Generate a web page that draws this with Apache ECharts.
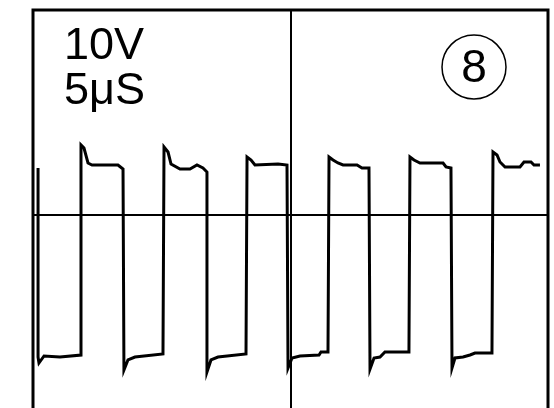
<!DOCTYPE html>
<html>
<head>
<meta charset="utf-8">
<style>
  html, body { margin: 0; padding: 0; background: #fff; }
  #chart { width: 554px; height: 408px; }
</style>
<script src="https://cdn.jsdelivr.net/npm/echarts@6/dist/echarts.min.js"></script>
</head>
<body>
<div id="chart"></div>
<script>
// Oscilloscope settings (labels)
const voltsPerDiv = '10V';
const timePerDiv = '5μS';
const panelNumber = '8';

// Axis ranges: time in μs (10 divisions of 5 μs), voltage in V (8 divisions of 10 V)
const timeMin = 0, timeMax = 50, timeGrid = 25;
const voltMin = -40, voltMax = 40, voltGrid = 40;

// Trace: time (μs) and voltage (V)
const traceTime = [
  0.49, 0.49, 0.58, 1.07, 2.62, 4.66,
  4.66, 4.95, 5.34, 5.73, 8.25, 8.74, 8.83,
  8.83, 9.22, 9.90, 12.62, 12.72,
  12.72, 13.11, 13.40, 14.27, 15.24, 15.92, 16.50, 16.89,
  16.89, 17.28, 17.96, 20.68, 20.78,
  20.78, 21.17, 21.55, 23.79, 24.66, 24.76,
  24.76, 25.15, 25.92, 27.77, 27.96, 28.64, 28.74,
  28.74, 29.13, 29.61, 30.10, 31.46, 31.94, 32.62, 32.72,
  32.72, 33.11, 33.69, 34.17, 36.50, 36.60,
  36.60, 36.99, 37.57, 39.81, 40.10, 40.58, 40.68,
  40.68, 40.97, 41.75, 42.43, 42.91, 44.56, 44.66,
  44.66, 45.05, 45.34, 45.83, 47.28, 47.67, 48.35, 48.64, 49.22
];
const traceVolt = [
  9.17, -27.71, -28.88, -27.51, -27.71, -27.32,
  13.66, 13.07, 10.15, 9.76, 9.76, 8.98, 8.78,
  -30.24, -28.29, -27.71, -27.12, -27.12,
  13.27, 12.29, 9.95, 8.98, 8.98, 9.76, 9.17, 8.39,
  -30.63, -28.29, -27.71, -27.12, -27.12,
  11.32, 10.73, 9.76, 9.95, 9.76, 9.76,
  -29.85, -27.90, -27.51, -27.32, -26.73, -26.73, -26.73,
  11.32, 10.73, 10.15, 9.76, 9.76, 9.17, 9.17, 9.17,
  -30.05, -27.90, -27.71, -26.73, -26.73, -26.73,
  11.32, 10.73, 10.15, 10.15, 9.37, 9.17, 9.17,
  -29.85, -27.90, -27.71, -27.32, -26.93, -26.93, -26.93,
  12.29, 11.71, 10.34, 9.37, 9.37, 10.34, 10.34, 9.76, 9.76
];

const traceData = traceTime.map((t, i) => [t, traceVolt[i]]);

const chart = echarts.init(document.getElementById('chart'), null, { renderer: 'canvas' });
chart.setOption({
  animation: false,
  backgroundColor: '#ffffff',
  title: {
    text: voltsPerDiv + '\n' + timePerDiv,
    left: 64,
    top: 24,
    padding: 0,
    textStyle: {
      fontFamily: 'Liberation Sans',
      fontSize: 45,
      fontWeight: 'normal',
      color: '#000',
      lineHeight: 45
    }
  },
  grid: {
    left: 33, top: 10, width: 515, height: 410,
    outerBoundsMode: 'none',
    containLabel: false,
    show: true,
    borderColor: '#000',
    borderWidth: 3,
    backgroundColor: 'transparent'
  },
  xAxis: {
    type: 'value',
    min: timeMin, max: timeMax, interval: timeGrid,
    axisLine: { show: false },
    axisTick: { show: false },
    axisLabel: { show: false },
    splitLine: { show: true, lineStyle: { color: '#000', width: 2 } }
  },
  yAxis: {
    type: 'value',
    min: voltMin, max: voltMax, interval: voltGrid,
    axisLine: { show: false },
    axisTick: { show: false },
    axisLabel: { show: false },
    splitLine: { show: true, lineStyle: { color: '#000', width: 2 } }
  },
  graphic: [
    {
      type: 'circle',
      shape: { cx: 474, cy: 67, r: 32 },
      style: { fill: 'none', stroke: '#000', lineWidth: 1.5 }
    },
    {
      type: 'text',
      x: 474, y: 69,
      style: {
        text: panelNumber,
        font: 'normal 46px "Liberation Sans"',
        fill: '#000',
        align: 'center',
        verticalAlign: 'middle'
      }
    }
  ],
  series: [{
    type: 'line',
    data: traceData,
    showSymbol: false,
    symbol: 'none',
    lineStyle: { color: '#000', width: 3, join: 'miter' },
    clip: true,
    z: 5
  }]
});
</script>
</body>
</html>
